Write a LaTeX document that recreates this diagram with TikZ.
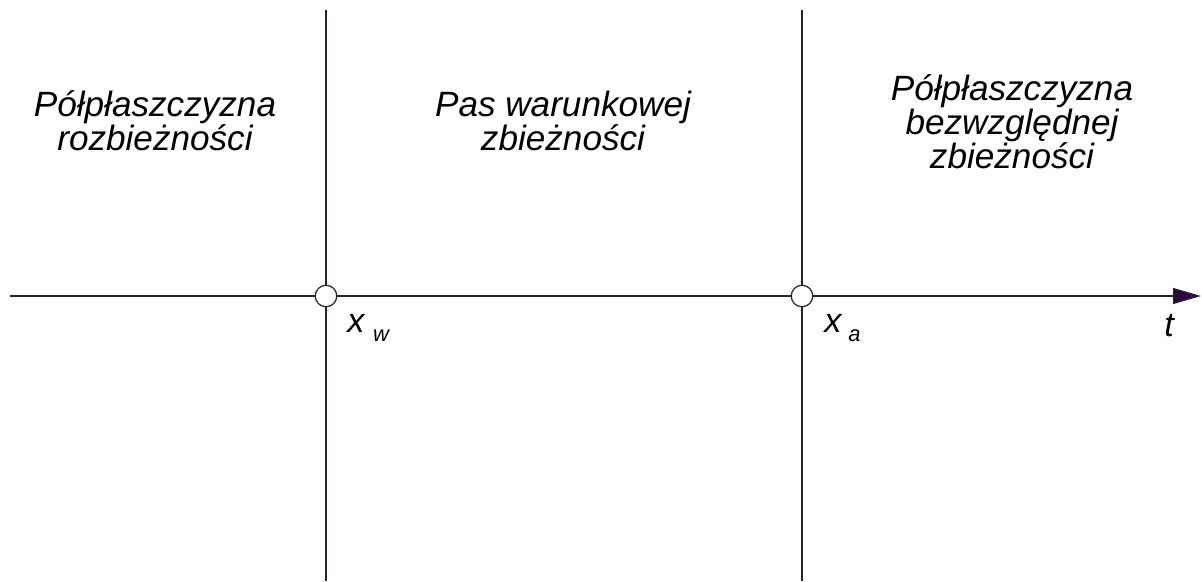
\documentclass[tikz,border=0pt]{standalone}
\usepackage{fontspec}
\setmainfont{Liberation Sans}
\usepackage{tikz}
\usetikzlibrary{arrows.meta}
\definecolor{axiscol}{RGB}{45,30,50}
\definecolor{tipcol}{RGB}{40,8,55}
\tikzset{
  region/.style={align=center,font=\itshape\fontsize{20}{19.3}\selectfont,inner sep=0pt},
  pointmark/.style={circle,draw=axiscol,fill=white,minimum size=0.43cm,inner sep=0pt,line width=0.7pt},
  ptlabel/.style={anchor=base west,inner sep=0pt,font=\itshape\fontsize{19.5}{19.5}\selectfont}
}
\newcommand{\subsc}[1]{\raisebox{-0.55ex}{\fontsize{12.5}{12.5}\selectfont #1}}

\begin{document}
\begin{tikzpicture}[x=0.02cm,y=-0.02cm]
  \useasboundingbox (0,0) rectangle (1202,581);
  %% ---- axis and the two vertical lines ----
  \coordinate (axstart) at (10,296);
  \coordinate (axend) at (1201,296);
  \coordinate (wtop) at (326,10);
  \coordinate (wbot) at (326,581);
  \coordinate (atop) at (802,10);
  \coordinate (abot) at (802,581);
  \draw[axiscol,line width=0.8pt,-{Triangle[length=0.56cm,width=0.32cm,fill=tipcol]}]
    (axstart) -- (axend);
  \draw[axiscol,line width=0.8pt] (wtop) -- (wbot);
  \draw[axiscol,line width=0.8pt] (atop) -- (abot);
  %% points on the axis
  \node[pointmark] (xw) at (326,296) {};
  \node[pointmark] (xa) at (802,296) {};
  %% labels
  \node[ptlabel] (xwlab) at (347,332) {x\hspace{0.25em}\subsc{w}};
  \node[ptlabel] (xalab) at (824,332) {x\hspace{0.2em}\subsc{a}};
  \node[ptlabel] (tlab) at (1164,336) {t};
  %% ---- region texts (base = last line) ----
  \node[region,anchor=base] (divreg) at (155,150) {Półpłaszczyzna\\rozbieżności};
  \node[region,anchor=base] (condreg) at (563,150) {Pas warunkowej\\zbieżności};
  \node[region,anchor=base] (absreg) at (1012,168) {Półpłaszczyzna\\bezwzględnej\\zbieżności};
\end{tikzpicture}
\end{document}
